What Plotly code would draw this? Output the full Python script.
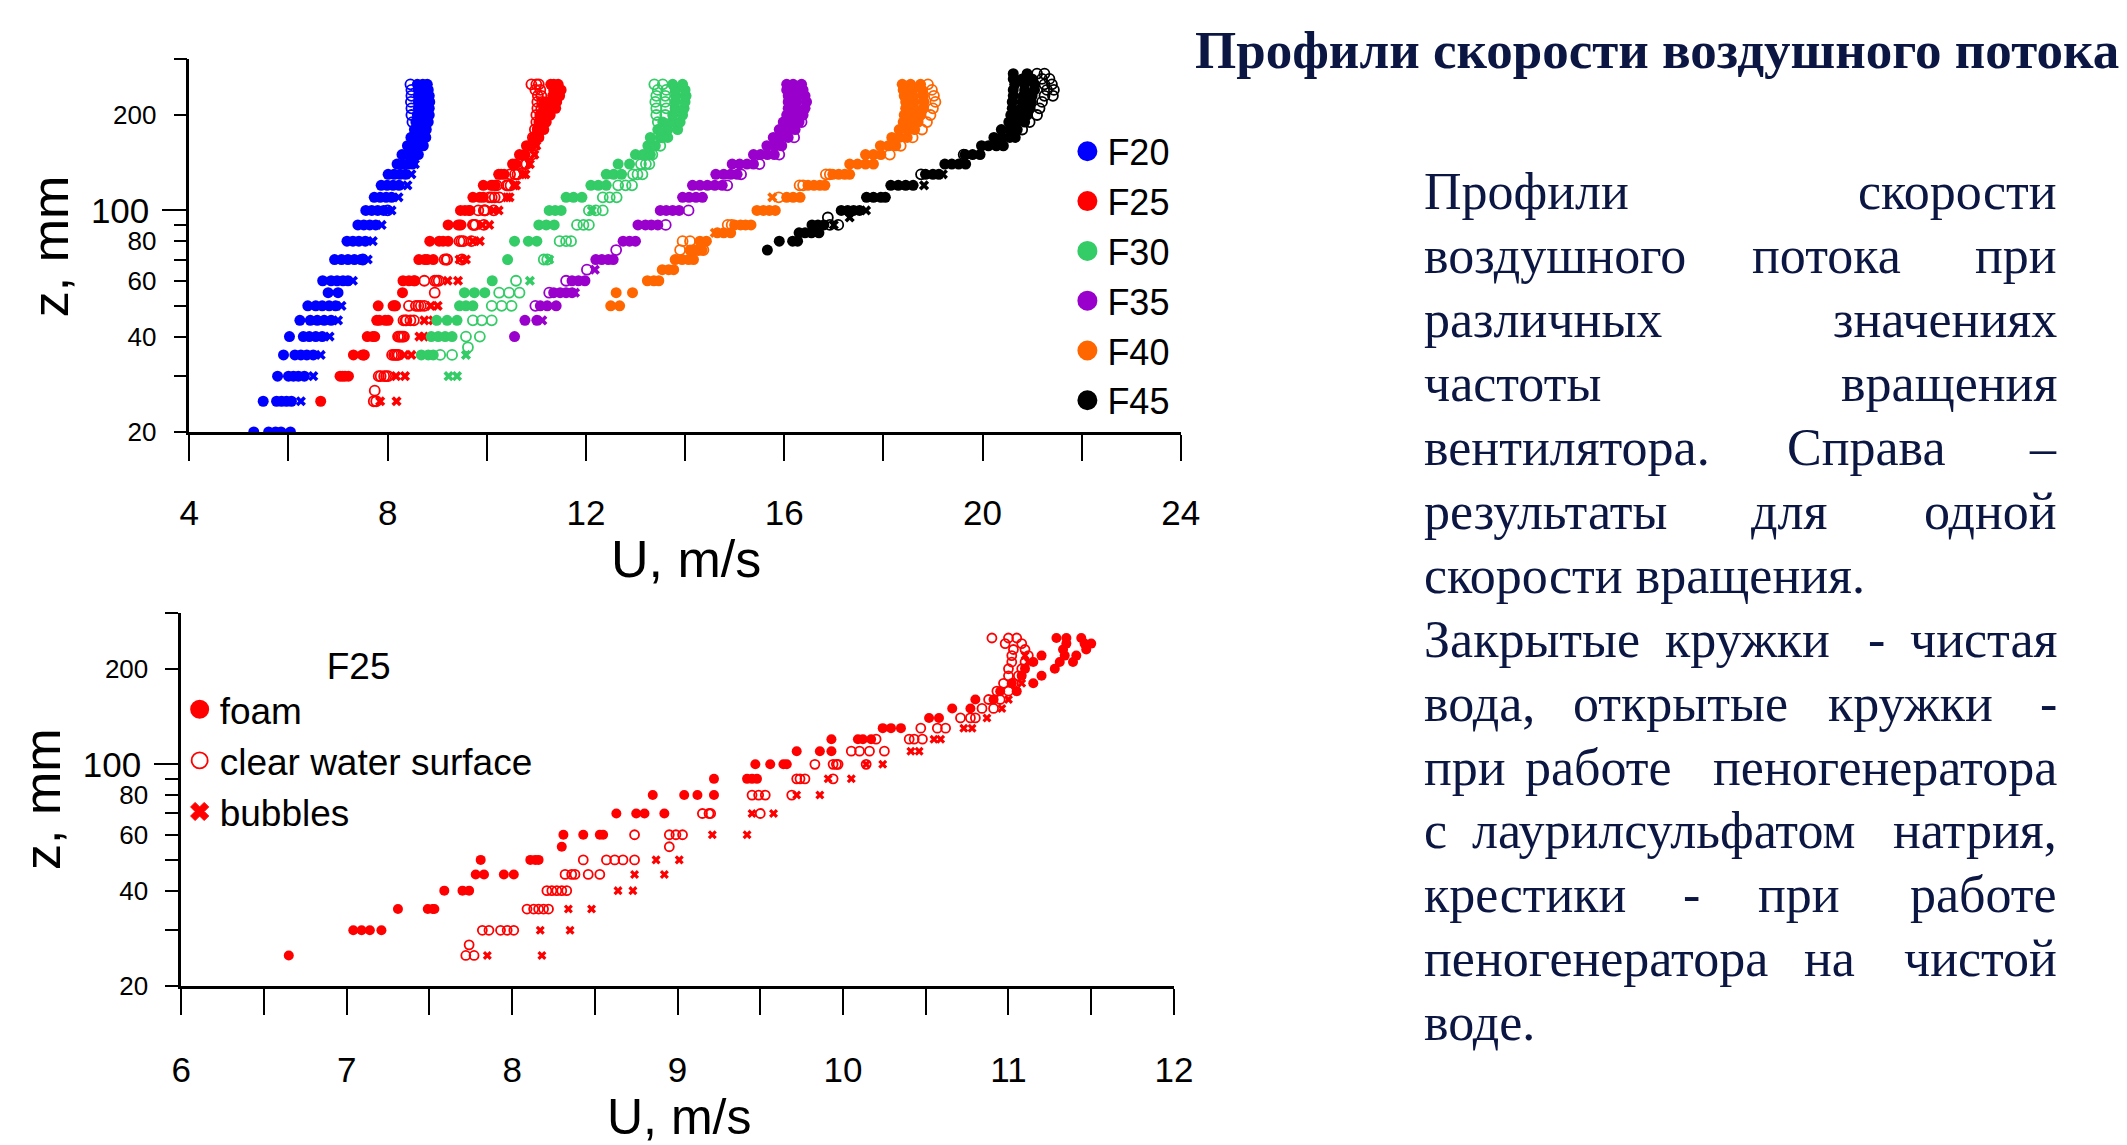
import math
import plotly.graph_objects as go

FIG_W, FIG_H = 2127, 1145

# ---------------------------------------------------------------
# Air-velocity profiles U(z): height z (mm) -> measured U values (m/s)
#   *_FILLED : clean water (closed circles)
#   *_OPEN   : foam generator with sodium lauryl sulfate (open circles)
#   *_CROSS  : foam generator on clean water (crosses)
# ---------------------------------------------------------------
F20_FILLED = {
    20: [5.30, 5.60, 5.74, 5.85, 6.04], 25: [5.49, 5.76, 5.86, 5.96, 6.06],
    30: [5.78, 6.00, 6.10, 6.20, 6.32], 35: [5.90, 6.13, 6.25, 6.37, 6.50],
    40: [6.02, 6.30, 6.42, 6.55, 6.68], 45: [6.23, 6.44, 6.58, 6.72, 6.86],
    50: [6.39, 6.55, 6.68, 6.82, 6.95], 55: [6.80, 7.00],
    60: [6.69, 6.86, 6.98, 7.10, 7.20], 70: [6.93, 7.07, 7.20, 7.33, 7.46],
    80: [7.18, 7.30, 7.42, 7.55], 90: [7.40, 7.52, 7.64, 7.76],
    100: [7.56, 7.68, 7.80, 7.92], 110: [7.73, 7.85, 7.97, 8.08],
    120: [7.87, 7.99, 8.11, 8.23], 130: [8.01, 8.13, 8.25, 8.36],
    140: [8.19, 8.30, 8.41, 8.50], 150: [8.29, 8.40, 8.52, 8.62],
    160: [8.40, 8.52, 8.64, 8.72], 170: [8.47, 8.58, 8.68, 8.77],
    180: [8.54, 8.66, 8.78], 190: [8.57, 8.70, 8.82], 200: [8.60, 8.72, 8.84],
    210: [8.62, 8.74, 8.84], 220: [8.62, 8.74, 8.85], 230: [8.62, 8.74, 8.84],
    240: [8.62, 8.74, 8.82], 250: [8.60, 8.71, 8.80],
}
F20_OPEN = {
    70: [7.50], 100: [8.00], 150: [8.55], 160: [8.60], 170: [8.50],
    190: [8.50], 200: [8.48], 210: [8.48], 220: [8.47], 230: [8.48],
    240: [8.48], 250: [8.46],
}
F20_CROSS = {
    25: [6.25], 30: [6.50], 35: [6.65], 40: [6.83], 45: [7.00], 50: [7.07],
    60: [7.30], 70: [7.60], 80: [7.70], 90: [7.88], 100: [8.08], 110: [8.22],
    120: [8.40], 130: [8.48], 140: [8.55],
}

F25_FILLED = {
    25: [6.65], 30: [7.04, 7.09, 7.14, 7.21], 35: [7.31, 7.49, 7.52, 7.53],
    40: [7.59, 7.70, 7.74], 45: [7.78, 7.83, 7.95, 8.01], 50: [7.81, 8.11, 8.14, 8.16],
    55: [8.30], 60: [8.31, 8.43, 8.53, 8.55], 70: [8.63, 8.75, 8.80, 8.92],
    80: [8.85, 9.04, 9.12, 9.22], 90: [9.22, 9.42, 9.45, 9.48],
    100: [9.47, 9.56, 9.64, 9.66], 110: [9.72, 9.86, 9.93],
    120: [9.93, 10.09, 10.12, 10.17], 130: [10.24, 10.29, 10.35],
    140: [10.52, 10.58], 150: [10.66, 10.77], 160: [10.80, 10.91],
    170: [10.95, 11.05], 180: [11.02, 11.15], 190: [11.08, 11.20],
    200: [11.10, 11.28], 210: [11.15, 11.31, 11.39], 220: [11.20, 11.34, 11.41],
    230: [11.33, 11.47], 240: [11.35, 11.46, 11.50], 250: [11.29, 11.35, 11.44],
}
F25_OPEN = {
    25: [7.72, 7.77], 27: [7.74], 30: [7.82, 7.86, 7.93, 7.97, 8.01],
    35: [8.09, 8.13, 8.16, 8.19, 8.22], 40: [8.21, 8.24, 8.27, 8.30, 8.33],
    45: [8.32, 8.36, 8.38, 8.46, 8.53], 50: [8.43, 8.57, 8.62, 8.67, 8.74],
    55: [8.95], 60: [8.74, 8.95, 8.99, 9.03], 70: [9.15, 9.19, 9.20, 9.50],
    80: [9.45, 9.49, 9.53, 9.69], 90: [9.72, 9.74, 9.77, 9.94],
    100: [9.83, 9.94, 9.96, 9.97, 10.14], 110: [10.05, 10.10, 10.16, 10.25],
    120: [10.20, 10.40, 10.43, 10.48], 130: [10.47, 10.57, 10.62],
    140: [10.71, 10.77, 10.80], 150: [10.84, 10.91], 160: [10.88, 10.95],
    170: [10.93, 11.00], 180: [10.97, 11.03], 190: [11.00, 11.06],
    200: [11.00, 11.08], 210: [11.02, 11.10], 220: [11.02, 11.12],
    230: [11.03, 11.10], 240: [10.98, 11.08], 250: [10.90, 11.00, 11.05],
}
F25_CROSS = {
    25: [7.85, 8.18], 30: [8.17, 8.35], 35: [8.34, 8.48], 40: [8.64, 8.73],
    45: [8.74, 8.92], 50: [8.87, 9.01], 60: [9.21, 9.42], 70: [9.45, 9.58],
    80: [9.72, 9.86], 90: [9.91, 10.05], 100: [10.14, 10.24],
    110: [10.41, 10.46], 120: [10.55, 10.59], 130: [10.73, 10.78],
    140: [10.87], 150: [10.96], 160: [11.00], 170: [11.05], 180: [11.08],
    190: [11.08], 200: [11.10], 210: [11.12], 220: [11.10],
}

F30_FILLED = {
    35: [8.68, 8.82, 8.92], 40: [8.88, 9.02, 9.16, 9.30], 45: [8.99, 9.20, 9.40],
    50: [9.45, 9.58, 9.72], 55: [9.55, 9.75, 9.96], 60: [10.11], 70: [10.42],
    80: [10.56, 10.84, 11.01], 90: [11.05, 11.20, 11.36], 100: [11.26, 11.38, 11.50],
    110: [11.60, 11.75, 11.92], 120: [12.10, 12.25, 12.41], 130: [12.41, 12.56, 12.72],
    140: [12.65, 12.88], 150: [13.00, 13.15, 13.30], 160: [13.25, 13.40],
    170: [13.30, 13.50, 13.65], 180: [13.45, 13.65, 13.85], 190: [13.55, 13.75, 13.90],
    200: [13.75, 13.95], 210: [13.80, 13.98], 220: [13.80, 14.00],
    230: [13.82, 14.02], 240: [13.80, 14.00], 250: [13.75, 13.95],
}
F30_OPEN = {
    35: [9.06, 9.30], 37: [9.62], 40: [9.58, 9.86], 45: [9.72, 9.90, 10.10],
    50: [10.10, 10.30, 10.50], 55: [10.25, 10.45, 10.66], 60: [10.59],
    70: [11.15, 11.22], 80: [11.47, 11.60, 11.70], 90: [11.82, 11.95, 12.06],
    100: [12.06, 12.20, 12.34], 110: [12.34, 12.48, 12.62], 120: [12.65, 12.80, 12.93],
    130: [12.95, 13.04, 13.14], 140: [13.11, 13.21, 13.28], 150: [13.34],
    160: [13.50], 170: [13.55], 180: [13.50], 190: [13.45], 200: [13.42, 13.60],
    210: [13.42, 13.62], 220: [13.40, 13.60], 230: [13.42, 13.60],
    240: [13.45, 13.62], 250: [13.38, 13.55],
}
F30_CROSS = {
    30: [9.23, 9.40], 35: [9.58], 60: [10.87], 70: [11.26], 100: [12.12],
}

F35_FILLED = {
    40: [10.56], 45: [10.77, 11.01], 50: [11.08, 11.22, 11.40],
    55: [11.35, 11.48, 11.60, 11.72], 60: [11.72, 11.85, 11.98],
    70: [12.20, 12.32, 12.45, 12.55], 80: [12.75, 12.88, 13.00],
    90: [13.05, 13.20, 13.32, 13.45], 100: [13.50, 13.62, 13.75, 13.88],
    110: [13.95, 14.08, 14.22, 14.35], 120: [14.15, 14.30, 14.45, 14.60, 14.75],
    130: [14.62, 14.78, 14.92, 15.05], 140: [14.95, 15.10, 15.25, 15.38],
    150: [15.38, 15.52, 15.66, 15.80], 160: [15.65, 15.80, 15.95],
    170: [15.78, 15.92, 16.08], 180: [15.90, 16.05, 16.22], 190: [15.98, 16.12, 16.30],
    200: [16.05, 16.20, 16.38], 210: [16.08, 16.24, 16.42], 220: [16.08, 16.25, 16.45],
    230: [16.08, 16.25, 16.42], 240: [16.05, 16.20, 16.38], 250: [16.05, 16.18, 16.35],
}
F35_OPEN = {
    50: [10.98], 55: [11.26], 60: [11.60], 65: [12.02], 75: [12.61], 90: [13.61],
    100: [14.07], 120: [14.85], 130: [15.13], 140: [15.50], 150: [15.90],
    170: [16.20], 190: [16.35],
}
F35_CROSS = {45: [11.12], 55: [11.78], 65: [12.18]}

F40_FILLED = {
    50: [12.50, 12.68], 55: [12.61, 12.94], 60: [13.24, 13.37, 13.47],
    65: [13.54, 13.67, 13.77], 70: [13.80, 13.94, 14.07, 14.17], 75: [14.10, 14.24, 14.34],
    80: [14.30, 14.43], 85: [14.65, 14.78, 14.92], 90: [15.00, 15.12, 15.22, 15.33],
    100: [15.45, 15.58, 15.70, 15.82], 110: [16.05, 16.18, 16.32],
    120: [16.48, 16.60, 16.72, 16.82], 130: [16.98, 17.10, 17.22, 17.32],
    140: [17.32, 17.48, 17.64, 17.80], 150: [17.64, 17.80, 17.95],
    160: [17.94, 18.10, 18.25], 170: [18.17, 18.32, 18.48], 180: [18.32, 18.48, 18.63],
    190: [18.40, 18.55, 18.70], 200: [18.42, 18.58, 18.75], 210: [18.45, 18.62, 18.80],
    220: [18.45, 18.62, 18.82], 230: [18.42, 18.60, 18.80], 240: [18.40, 18.58, 18.78],
    250: [18.38, 18.55, 18.75],
}
F40_OPEN = {
    75: [13.90, 14.17, 14.27, 14.37], 80: [13.95, 14.10], 90: [14.86, 14.94],
    110: [15.89], 120: [16.31, 16.38], 130: [16.84, 16.92], 150: [18.13],
    160: [18.35], 170: [18.59], 180: [18.78], 190: [18.88], 200: [18.95],
    210: [19.00], 220: [19.05], 230: [19.02], 240: [18.98], 250: [18.90],
}
F40_CROSS = {85: [14.60], 110: [15.76]}

F45_FILLED = {
    75: [15.66], 80: [15.90, 16.17, 16.27], 85: [16.30, 16.42, 16.55, 16.70],
    90: [16.56, 16.68, 16.80], 100: [17.15, 17.28, 17.40, 17.52],
    110: [17.66, 17.80, 17.95, 18.04], 120: [18.15, 18.30, 18.45, 18.60],
    130: [18.85, 19.00, 19.12], 140: [19.24, 19.38, 19.52, 19.66],
    150: [19.65, 19.80, 19.95], 160: [19.98, 20.12, 20.28, 20.42],
    170: [20.23, 20.40, 20.55, 20.66], 180: [20.38, 20.55, 20.70],
    190: [20.53, 20.68, 20.85], 200: [20.57, 20.75, 20.90], 210: [20.60, 20.78, 20.95],
    220: [20.60, 20.80, 20.98], 230: [20.62, 20.82, 21.00], 240: [20.62, 20.85, 21.05],
    250: [20.65, 20.85, 21.05], 260: [20.62, 20.80, 21.00], 270: [20.62, 20.90],
}
F45_OPEN = {
    90: [16.92, 17.09], 95: [16.88], 130: [18.76], 150: [19.62], 180: [20.80],
    190: [20.95], 200: [21.10], 210: [21.15], 220: [21.20], 230: [21.25, 21.42],
    240: [21.30, 21.44], 250: [21.25, 21.40], 260: [21.20, 21.35], 270: [21.10, 21.25],
}
F45_CROSS = {90: [17.00], 95: [17.32], 100: [17.65], 120: [18.82], 130: [19.20]}

SERIES_NAMES = ["F20", "F25", "F30", "F35", "F40", "F45"]
SERIES_COLORS = ["#0000FF", "#FF0000", "#33CC66", "#9900CC", "#FF6600", "#000000"]
SERIES_DATA = [
    (F20_FILLED, F20_OPEN, F20_CROSS),
    (F25_FILLED, F25_OPEN, F25_CROSS),
    (F30_FILLED, F30_OPEN, F30_CROSS),
    (F35_FILLED, F35_OPEN, F35_CROSS),
    (F40_FILLED, F40_OPEN, F40_CROSS),
    (F45_FILLED, F45_OPEN, F45_CROSS),
]

# axis tick definitions
TOP_X_TICKS = [4, 6, 8, 10, 12, 14, 16, 18, 20, 22, 24]
BOT_X_TICKS = [6, 6.5, 7, 7.5, 8, 8.5, 9, 9.5, 10, 10.5, 11, 11.5, 12]
Z_TICKS = [20, 30, 40, 50, 60, 70, 80, 90, 200, 300]
Z_TICK_TEXT = ["20", "", "40", "", "60", "", "80", "", "200", ""]

# caption text, one list of words per justified line
TITLE_TEXT = "Профили скорости воздушного потока"
BODY_LINES = [
    ["Профили", "скорости"],
    ["воздушного", "потока", "при"],
    ["различных", "значениях"],
    ["частоты", "вращения"],
    ["вентилятора.", "Справа", "–"],
    ["результаты", "для", "одной"],
    ["скорости вращения."],
    ["Закрытые", "кружки", "-", "чистая"],
    ["вода,", "открытые", "кружки", "-"],
    ["при", "работе", "пеногенератора"],
    ["с", "лаурилсульфатом", "натрия,"],
    ["крестики", "-", "при", "работе"],
    ["пеногенератора", "на", "чистой"],
    ["воде."],
]


def px(x):
    return x / FIG_W


def py(y):
    return 1 - y / FIG_H


def flatten(d):
    zs, us = [], []
    for z, vals in d.items():
        for u in vals:
            zs.append(z)
            us.append(u)
    return us, zs


SANS = "Liberation Sans, Arial, sans-serif"
SERIF = "Liberation Serif, Times New Roman, serif"
NAVY = "#0b1742"

fig = go.Figure()


def add_profile(filled, opened, crossed, color, xa, ya, size):
    u, z = flatten(filled)
    fig.add_trace(go.Scatter(x=u, y=z, mode="markers", xaxis=xa, yaxis=ya,
                             marker=dict(symbol="circle", size=size, color=color,
                                         line=dict(width=0)),
                             showlegend=False, hoverinfo="x+y"))
    u, z = flatten(opened)
    fig.add_trace(go.Scatter(x=u, y=z, mode="markers", xaxis=xa, yaxis=ya,
                             marker=dict(symbol="circle-open", size=size - 1, color=color,
                                         line=dict(width=1.8, color=color)),
                             showlegend=False, hoverinfo="x+y"))
    u, z = flatten(crossed)
    fig.add_trace(go.Scatter(x=u, y=z, mode="markers", xaxis=xa, yaxis=ya,
                             marker=dict(symbol="x", size=size - 2, color=color,
                                         line=dict(width=0)),
                             showlegend=False, hoverinfo="x+y"))


# upper panel: all fan frequencies
for name, color, (fd, od, cd) in zip(SERIES_NAMES, SERIES_COLORS, SERIES_DATA):
    add_profile(fd, od, cd, color, "x", "y", 11)

# legend entries for the upper panel
for name, color in zip(SERIES_NAMES, SERIES_COLORS):
    fig.add_trace(go.Scatter(x=[None], y=[None], mode="markers", name=name,
                             xaxis="x", yaxis="y", legend="legend",
                             marker=dict(symbol="circle", size=16, color=color,
                                         line=dict(width=4, color=color))))

# lower panel: F25 only
add_profile(F25_FILLED, F25_OPEN, F25_CROSS, "#FF0000", "x2", "y2", 10)

fig.add_trace(go.Scatter(x=[None], y=[None], mode="markers", name="foam",
                         xaxis="x2", yaxis="y2", legend="legend2",
                         marker=dict(symbol="circle", size=16, color="#FF0000",
                                     line=dict(width=3, color="#FF0000"))))
fig.add_trace(go.Scatter(x=[None], y=[None], mode="markers", name="clear water surface",
                         xaxis="x2", yaxis="y2", legend="legend2",
                         marker=dict(symbol="circle-open", size=17, color="#FF0000",
                                     line=dict(width=1.8, color="#FF0000"))))
fig.add_trace(go.Scatter(x=[None], y=[None], mode="markers", name="bubbles",
                         xaxis="x2", yaxis="y2", legend="legend2",
                         marker=dict(symbol="x", size=16, color="#FF0000",
                                     line=dict(width=1, color="#FF0000"))))

# placeholders so the overlay axes carrying the long "100" tick get drawn
fig.add_trace(go.Scatter(x=[None], y=[None], xaxis="x", yaxis="y3",
                         showlegend=False, hoverinfo="skip"))
fig.add_trace(go.Scatter(x=[None], y=[None], xaxis="x2", yaxis="y4",
                         showlegend=False, hoverinfo="skip"))

ZRANGE = [math.log10(20), math.log10(300)]

common_x = dict(ticks="outside", ticklen=26, tickwidth=2, tickcolor="black",
                showline=True, linewidth=2.5, linecolor="black", showgrid=False,
                zeroline=False, tickfont=dict(family=SANS, size=35, color="black"),
                tickmode="array")
common_y = dict(type="log", range=ZRANGE, tickmode="array", tickvals=Z_TICKS,
                ticktext=Z_TICK_TEXT, ticks="outside", ticklen=13, tickwidth=2,
                tickcolor="black", showline=True, linewidth=2.5, linecolor="black",
                showgrid=False, zeroline=False,
                tickfont=dict(family=SANS, size=26, color="black"), ticklabelstandoff=12)
hundred_y = dict(type="log", range=ZRANGE, tickmode="array", tickvals=[100],
                 ticktext=["100"], ticks="outside", ticklen=26, tickwidth=2,
                 tickcolor="black", showline=False, showgrid=False, zeroline=False,
                 side="left", tickfont=dict(family=SANS, size=35, color="black"),
                 ticklabelstandoff=6)

fig.update_layout(
    width=FIG_W, height=FIG_H, margin=dict(l=0, r=0, t=0, b=0),
    paper_bgcolor="white", plot_bgcolor="rgba(0,0,0,0)",
    xaxis=dict(domain=[px(181.8), px(1187)], range=[4, 24], anchor="y",
               tickvals=TOP_X_TICKS, ticklabelstandoff=22,
               ticktext=[str(v) if v % 4 == 0 else "" for v in TOP_X_TICKS], **common_x),
    yaxis=dict(domain=[py(437.7), py(60)], anchor="x", **common_y),
    yaxis3=dict(overlaying="y", anchor="x", **hundred_y),
    xaxis2=dict(domain=[px(173.6), px(1180)], range=[6, 12], anchor="y2",
                tickvals=BOT_X_TICKS, ticklabelstandoff=25,
                ticktext=[str(int(v)) if v == int(v) else "" for v in BOT_X_TICKS],
                **common_x),
    yaxis2=dict(domain=[py(999.3), py(621)], anchor="x2", **common_y),
    yaxis4=dict(overlaying="y2", anchor="x2", **hundred_y),
    legend=dict(x=px(1072), y=py(123), xanchor="left", yanchor="top",
                font=dict(family=SANS, size=36, color="black"),
                bgcolor="rgba(0,0,0,0)", itemsizing="trace", tracegroupgap=0),
    legend2=dict(x=px(172), y=py(639), xanchor="left", yanchor="top",
                 font=dict(family=SANS, size=37, color="black"),
                 title=dict(text="F25", side="top center",
                            font=dict(family=SANS, size=37, color="black")),
                 bgcolor="rgba(0,0,0,0)", itemsizing="trace"),
    showlegend=True,
)

annotations = []
# axis titles
for (x, y, txt, ang, fs) in [(685, 566, "U, m/s", 0, 52), (40, 249, "z, mm", -90, 52),
                             (678, 1132, "U, m/s", 0, 50), (33, 810, "z, mm", -90, 52)]:
    annotations.append(dict(x=px(x), y=py(y), xref="paper", yref="paper", text=txt,
                            showarrow=False, textangle=ang, xanchor="center",
                            yanchor="middle",
                            font=dict(family=SANS, size=fs, color="black")))

# heading
annotations.append(dict(x=px(1670), y=py(51), xref="paper", yref="paper",
                        text="<b>" + TITLE_TEXT + "</b>", showarrow=False,
                        xanchor="center", yanchor="middle",
                        font=dict(family=SERIF, size=53, color=NAVY)))

# justified caption: first word flush left, last word flush right,
# inner words centred where the justification puts them
LEFT, RIGHT = 1432, 2077
LINE_Y = [194 + 64.8 * i for i in range(len(BODY_LINES))]
INNER_X = [
    [], [1842], [], [], [1882], [1804], [], [1762, 1892], [1694, 1927],
    [1610], [1676], [1705, 1814], [1845], [],
]
for words, ly, inner in zip(BODY_LINES, LINE_Y, INNER_X):
    body_font = dict(family=SERIF, size=52, color=NAVY)
    annotations.append(dict(x=px(LEFT), y=py(ly), xref="paper", yref="paper",
                            text=words[0], showarrow=False, xanchor="left",
                            yanchor="middle", font=body_font))
    if len(words) > 1:
        for w, cx in zip(words[1:-1], inner):
            annotations.append(dict(x=px(cx), y=py(ly), xref="paper", yref="paper",
                                    text=w, showarrow=False, xanchor="center",
                                    yanchor="middle", font=body_font))
        annotations.append(dict(x=px(RIGHT), y=py(ly), xref="paper", yref="paper",
                                text=words[-1], showarrow=False, xanchor="right",
                                yanchor="middle", font=body_font))

fig.update_layout(annotations=annotations)

fig.write_html("out.html")
